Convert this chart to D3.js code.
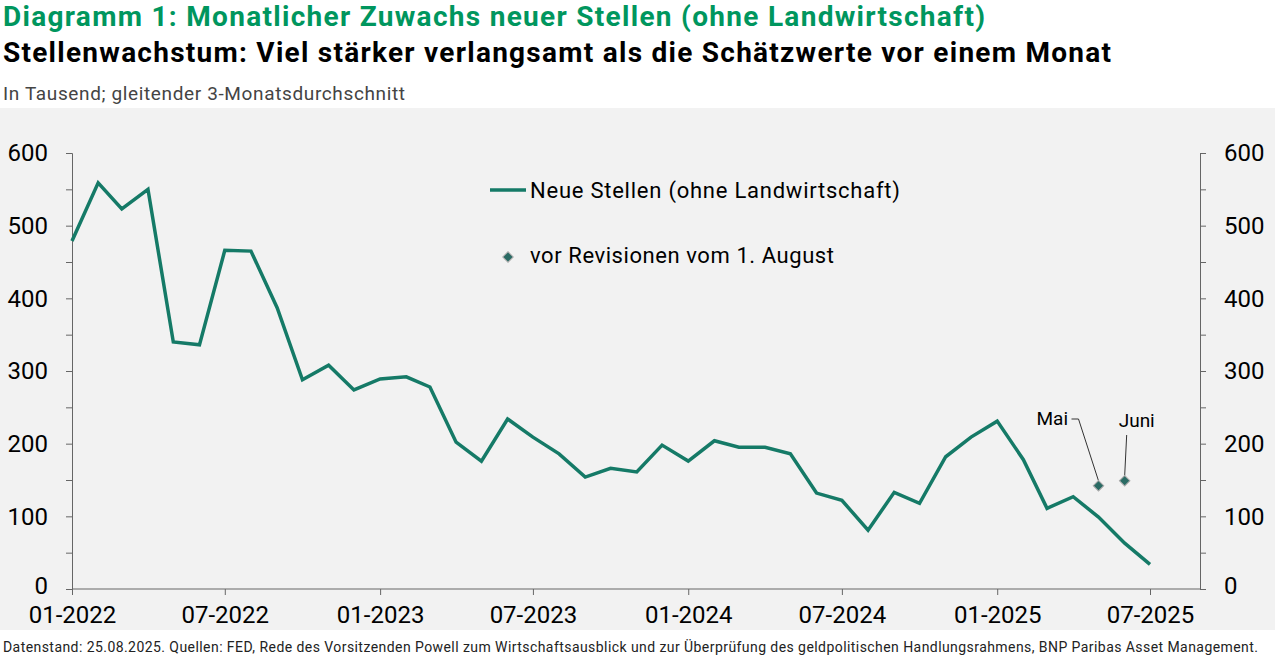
<!DOCTYPE html><html><head><meta charset="utf-8"><script src="https://cdn.jsdelivr.net/npm/d3@7"></script>
<style>body{margin:0;background:#fff}text{font-family:Roboto,"Noto Sans",sans-serif}</style></head><body><svg id="c" width="1275" height="658"></svg>
<script>
const values=[479,559,523,550,340,336,466,465,387,288,308,274,289,292,278,202,176,234,209,186,154,166,161,198,176,204,195,195,186,132,122,81,133,118,182,209,231,178,111,127,99,63,34];
const dates=values.map((v,i)=>new Date(2022,i,1));
const revLabels=["Mai","Juni"];
const revDates=[new Date(2025,4,1),new Date(2025,5,1)];
const revValues=[142,149];
const xTicks=["01-2022","07-2022","01-2023","07-2023","01-2024","07-2024","01-2025","07-2025"];
const yTicks=[0,100,200,300,400,500,600];
const svg=d3.select("#c");
svg.append("rect").attr("x",0).attr("y",108).attr("width",1275).attr("height",522).attr("fill","#f2f2f2");
svg.append("text").attr("x",3).attr("y",26).attr("font-size",28).attr("font-weight",700).attr("fill","#00965e").attr("textLength",982).text("Diagramm 1: Monatlicher Zuwachs neuer Stellen (ohne Landwirtschaft)");
svg.append("text").attr("x",3).attr("y",62).attr("font-size",28).attr("font-weight",700).attr("fill","#000").attr("textLength",1108).text("Stellenwachstum: Viel stärker verlangsamt als die Schätzwerte vor einem Monat");
svg.append("text").attr("x",3).attr("y",100).attr("font-size",19).attr("fill","#444").attr("textLength",402).text("In Tausend; gleitender 3-Monatsdurchschnitt");
svg.append("text").attr("x",3).attr("y",652).attr("font-size",14).attr("fill","#222").attr("textLength",1255).text("Datenstand: 25.08.2025. Quellen: FED, Rede des Vorsitzenden Powell zum Wirtschaftsausblick und zur Überprüfung des geldpolitischen Handlungsrahmens, BNP Paribas Asset Management.");
const x=d3.scaleTime().domain([new Date(2022,0,1),new Date(2025,6,1)]).range([72,1150]);
const y=d3.scaleLinear().domain([0,600]).range([589,153]);
const ax=svg.append("g").attr("transform","translate(0,589)").call(d3.axisBottom(x).tickValues(d3.range(0,43,6).map(i=>new Date(2022,i,1))).tickFormat((d,i)=>xTicks[i]).tickSize(6).tickSizeOuter(0));
ax.select(".domain").attr("d","M72,0H1200");
ax.selectAll("text").attr("font-size",24).attr("fill","#000").attr("dy","1.05em");
const minor=d3.range(0,601,50);
[[72,"axisLeft"],[1200,"axisRight"]].forEach(([px,fn])=>{
 const g=svg.append("g").attr("transform",`translate(${px},0)`).call(d3[fn](y).tickValues(minor).tickSize(6).tickFormat(""));
 g.selectAll("line,path").attr("stroke","#666");
 const t=svg.append("g").attr("transform",`translate(${px},0)`).call(d3[fn](y).tickValues(yTicks).tickSize(0).tickPadding(24));
 t.select(".domain").remove();
 t.selectAll("text").attr("font-size",24).attr("fill","#000").attr("dy",d=>d===0?"0.2em":"0.32em");
});
ax.selectAll("line,path").attr("stroke","#666");
svg.append("path").datum(values).attr("fill","none").attr("stroke","#157a67").attr("stroke-width",3.5)
 .attr("d",d3.line().x((d,i)=>x(dates[i])).y(d=>y(d)));
const sym=d3.symbol().type(d3.symbolSquare).size(55);
revValues.forEach((v,i)=>{
 const cx=x(revDates[i]),cy=y(v);
 const ly=i==0?425:427;
 svg.append("polyline").attr("points",i==0?`${cx-27},${ly-6} ${cx-20},${ly-6} ${cx},${cy-5}`:`${cx+2},${ly+8} ${cx},${cy-5}`).attr("fill","none").attr("stroke","#333");
 svg.append("path").attr("d",sym).attr("transform",`translate(${cx},${cy}) rotate(45)`).attr("fill","#2a6b64").attr("stroke","#aaa");
 svg.append("text").attr("x",i==0?cx-62:cx-6).attr("y",ly).attr("font-size",19).text(revLabels[i]);
});
svg.append("line").attr("x1",490).attr("x2",526).attr("y1",190).attr("y2",190).attr("stroke","#157a67").attr("stroke-width",3.5);
svg.append("text").attr("x",530).attr("y",198).attr("font-size",22).attr("textLength",370).text("Neue Stellen (ohne Landwirtschaft)");
svg.append("path").attr("d",sym).attr("transform","translate(508,257) rotate(45)").attr("fill","#2a6b64").attr("stroke","#aaa");
svg.append("text").attr("x",530).attr("y",263).attr("font-size",22).attr("textLength",304).text("vor Revisionen vom 1. August");
</script></body></html>
